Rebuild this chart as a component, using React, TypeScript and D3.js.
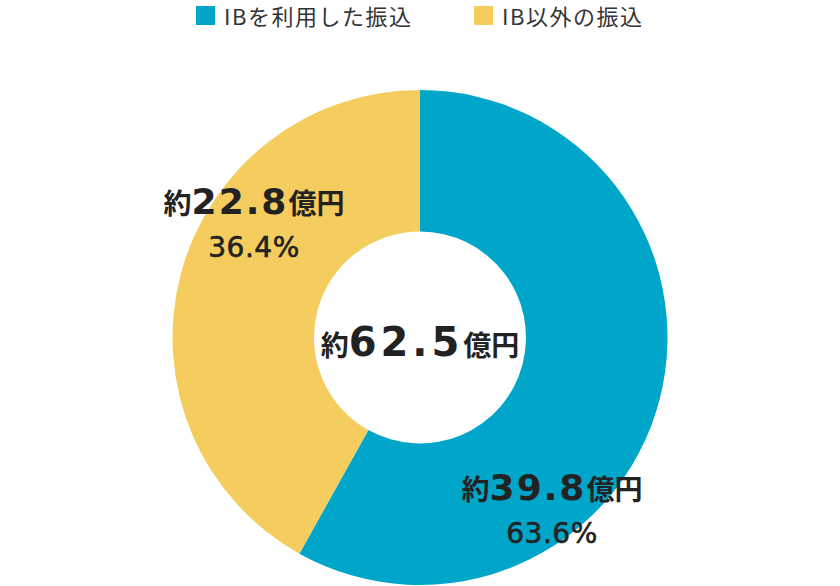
import { useEffect } from 'react';
import * as d3 from 'd3';

// slice sizes as drawn in the picture, plus the printed labels
const categories = ['IBを利用した振込', 'IB以外の振込'];
const sliceValues = [58.1, 41.9];
const amountLabels = ['39.8', '22.8'];
const percentLabels = ['63.6%', '36.4%'];
const totalLabel = '62.5';
const colors = ['#00A6CA', '#F5CD5E'];

const WIDTH = 840;
const HEIGHT = 586;
const CJK = '"Noto Sans CJK JP", "Noto Sans", sans-serif';
const NUM = '"DejaVu Sans", "Noto Sans CJK JP", sans-serif';
const TEXT = '#222222';

const App = () => {
  useEffect(() => {
    document.body.style.margin = '0';
  }, []);

  const cx = 420;
  const cy = 337.5;
  const outerR = 247.5;
  const innerR = 106;

  const pie = d3.pie<number>().sort(null).value(d => d);
  const arcs = pie(sliceValues);
  const arc = d3.arc<d3.PieArcDatum<number>>().innerRadius(innerR).outerRadius(outerR);

  // label anchors (offset from the chart center), hand placed like the original
  const labelPos = [
    { x: 132, y: 162 },
    { x: -166, y: -124 },
  ];

  return (
    <svg width={WIDTH} height={HEIGHT} style={{ display: 'block' }} fontFamily={CJK}>
      <rect width={WIDTH} height={HEIGHT} fill="#ffffff" />

      {/* legend */}
      <g fontSize={22} fill="#333333" letterSpacing={1.5}>
        <rect x={196} y={6} width={19} height={19} fill={colors[0]} />
        <text x={224} y={25}>{categories[0]}</text>
        <rect x={474} y={6} width={19} height={19} fill={colors[1]} />
        <text x={502} y={25}>{categories[1]}</text>
      </g>

      <g transform={`translate(${cx},${cy})`}>
        {arcs.map((a, i) => (
          <path key={i} d={arc(a) ?? ''} fill={colors[i]} />
        ))}

        {arcs.map((a, i) => (
          <g key={`l${i}`} transform={`translate(${labelPos[i].x},${labelPos[i].y})`} fill={TEXT} textAnchor="middle">
            <text y={0} fontWeight="bold">
              <tspan fontSize={28}>約</tspan>
              <tspan fontSize={36} fontFamily={NUM} letterSpacing={2}>{amountLabels[i]}</tspan>
              <tspan fontSize={28}>億円</tspan>
            </text>
            <text y={43} fontSize={28} fontFamily={NUM} stroke={TEXT} strokeWidth={0.6} letterSpacing={0.5}>
              {percentLabels[i]}
            </text>
          </g>
        ))}

        <text y={18} fill={TEXT} fontWeight="bold" textAnchor="middle">
          <tspan fontSize={28}>約</tspan>
          <tspan fontSize={40} fontFamily={NUM} letterSpacing={4}>{totalLabel}</tspan>
          <tspan fontSize={28}>億円</tspan>
        </text>
      </g>
    </svg>
  );
};

export default App;
